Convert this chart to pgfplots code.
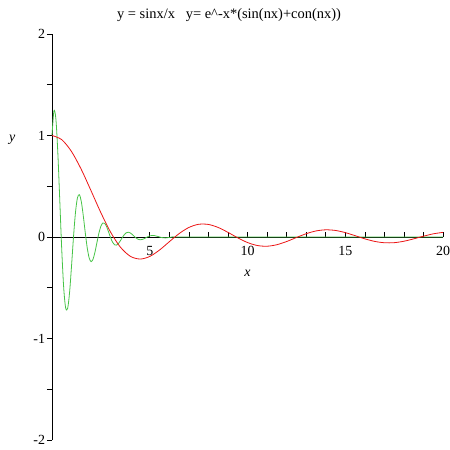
\documentclass[border=0pt]{standalone}
\usepackage{fontspec}
\setmainfont{Liberation Serif}
\usepackage{pgfplots}
\pgfplotsset{compat=1.18}
\definecolor{mgreen}{RGB}{70,195,70}
\definecolor{mred}{RGB}{235,20,20}
\begin{document}
\begin{tikzpicture}
\path[use as bounding box] (0bp,0bp) rectangle (450bp,450bp);
\node[font=\fontsize{14.5}{16}\selectfont] at (229bp,435bp) {y = sinx/x\ \ \ y= e\textasciicircum-x*(sin(nx)+con(nx))};
\begin{axis}[
  at={(52bp,10bp)}, anchor=south west,
  scale only axis, width=391bp, height=406bp,
  xmin=0, xmax=20, ymin=-2, ymax=2,
  axis lines=middle,
  axis line style={-, black, line width=0.8pt},
  xtick={5,10,15,20}, ytick={-2,-1,0,1,2},
  minor x tick num=4, minor y tick num=1,
  hide obscured x ticks=false, hide obscured y ticks=false,
  tick align=center,
  major tick length=5bp, minor tick length=5bp,
  tick style={black, line width=0.6pt},
  xtick style={yshift=2.5bp},
  ytick style={xshift=-2.5bp},
  /pgf/number format/assume math mode=true,
  tick label style={font=\fontsize{14}{16}\selectfont},
  xticklabel style={yshift=-3bp},
  yticklabel style={xshift=-1bp},
  xlabel={\textit{x}}, ylabel={\textit{y}},
  x label style={at={(axis description cs:0.5,0.41)}, anchor=center, font=\fontsize{14}{16}\selectfont},
  y label style={at={(axis description cs:-0.102,0.74)}, anchor=center, rotate=0, font=\fontsize{14}{16}\selectfont},
  clip=false,
]
\addplot[mgreen, line width=0.8pt, smooth, tension=0.5] coordinates {
(0,1.000) (0.1,1.2439) (0.2,1.1612) (0.3,0.8224) (0.4,0.3494) (0.5,-0.1313)
(0.6,-0.5052) (0.7,-0.7003) (0.8,-0.7030) (0.9,-0.5438) (1.0,-0.2827) (1.1,0.0012)
(1.2,0.2396) (1.3,0.3846) (1.4,0.4173) (1.5,0.3483) (1.6,0.2098) (1.7,0.0448)
(1.8,-0.1040) (1.9,-0.2054) (2.0,-0.2427) (2.1,-0.2179) (2.2,-0.1474) (2.3,-0.0532)
(2.4,0.0381) (2.5,0.1059) (2.6,0.1382) (2.7,0.1336) (2.8,0.0985) (2.9,0.0465)
(3.0,-0.0080) (3.1,-0.0519) (3.2,-0.0769) (3.3,-0.0800) (3.4,-0.0642) (3.5,-0.0361)
(3.6,-0.0040) (3.7,0.0239) (3.8,0.0418) (3.9,0.0471) (4.0,0.0407) (4.1,0.0259)
(4.2,0.0074) (4.3,-0.0097) (4.4,-0.0219) (4.5,-0.0270) (4.6,-0.0252) (4.7,-0.0179)
(4.8,-0.0074) (4.9,0.0030) (5.0,0.0111) (5.2,0.0155) (5.4,0.0061) (5.6,-0.0053)
(5.8,-0.0091) (6.0,-0.0045) (6.2,0.0023) (6.5,0) (10,0) (15,0) (20,0)
};
\addplot[mred, line width=0.8pt, smooth] coordinates {
(0,1) (0.5,0.9589) (1.0,0.8415) (1.5,0.6650) (2.0,0.4546) (2.5,0.2394)
(3.0,0.0470) (3.5,-0.1002) (4.0,-0.1892) (4.5,-0.2172) (5.0,-0.1918) (5.5,-0.1283)
(6.0,-0.0466) (6.5,0.0331) (7.0,0.0939) (7.5,0.1251) (8.0,0.1237) (8.5,0.0939)
(9.0,0.0458) (9.5,-0.0079) (10.0,-0.0544) (10.5,-0.0838) (11.0,-0.0909) (11.5,-0.0761)
(12.0,-0.0447) (12.5,-0.0053) (13.0,0.0323) (13.5,0.0595) (14.0,0.0708) (14.5,0.0645)
(15.0,0.0434) (15.5,0.0133) (16.0,-0.0180) (16.5,-0.0431) (17.0,-0.0566) (17.5,-0.0559)
(18.0,-0.0417) (18.5,-0.0183) (19.0,0.0079) (19.5,0.0311) (20.0,0.0456)
};
\end{axis}
\end{tikzpicture}
\end{document}
